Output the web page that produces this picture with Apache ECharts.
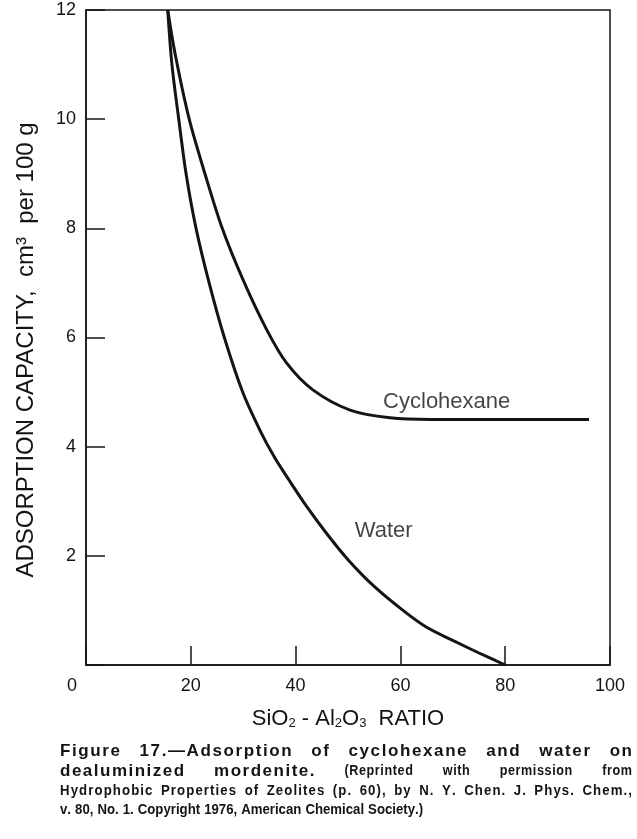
<!DOCTYPE html>
<html><head><meta charset="utf-8">
<script src="https://cdn.jsdelivr.net/npm/echarts@6/dist/echarts.min.js"></script>
<style>html,body{margin:0;padding:0;background:#fff}#c{width:637px;height:839px}</style>
</head><body><div id="c"></div>
<script>
// ---- data ----
const xTickValues = [0, 20, 40, 60, 80, 100];
const yTickValues = [0, 2, 4, 6, 8, 10, 12];
const waterX = [15.6, 16.4, 17.7, 19.1, 21.0, 23.5, 26.4, 29.9, 33.2, 36.0, 38.8, 42.0, 46.0, 50.0, 55.0, 60.5, 65.0, 70.0, 75.0, 80.0];
const waterY = [12.0, 11.0, 10.0, 9.0, 8.0, 7.0, 6.0, 5.0, 4.3, 3.8, 3.38, 2.92, 2.4, 1.93, 1.44, 1.0, 0.69, 0.45, 0.22, 0.0];
const cycloX = [15.6, 17.0, 19.7, 22.7, 26.0, 30.0, 34.5, 38.3, 43.3, 50.4, 58.0, 66.0, 80.0, 96.0];
const cycloY = [12.0, 11.2, 10.0, 9.0, 8.0, 7.05, 6.14, 5.53, 5.04, 4.67, 4.53, 4.5, 4.5, 4.5];
const seriesNames = ['Cyclohexane', 'Water'];
const labelAnchors = [[56.7, 4.82], [51.3, 2.45]];
const xAxisTitle = 'SiO{s|2} - Al{s|2}O{s|3}  RATIO';
const yAxisTitle = 'ADSORPTION CAPACITY,  cm³  per 100 g';
const captionLines = [
  [['Figure', 'B'], ['17.—Adsorption', 'B'], ['of', 'B'], ['cyclohexane', 'B'], ['and', 'B'], ['water', 'B'], ['on', 'B']],
  [['dealuminized', 'B'], ['mordenite.', 'B'], ['(Reprinted', 'M'], ['with', 'M'], ['permission', 'M'], ['from', 'M']],
  [['Hydrophobic', 'S'], ['Properties', 'S'], ['of', 'S'], ['Zeolites', 'S'], ['(p.', 'S'], ['60),', 'S'], ['by', 'S'], ['N.', 'S'], ['Y.', 'S'], ['Chen.', 'S'], ['J.', 'S'], ['Phys.', 'S'], ['Chem.,', 'S']],
  [['v.', 'S'], ['80,', 'S'], ['No.', 'S'], ['1.', 'S'], ['Copyright', 'S'], ['1976,', 'S'], ['American', 'S'], ['Chemical', 'S'], ['Society.)', 'S']]
];

// ---- chart ----
const FONT = '"Liberation Sans", Arial, Helvetica, sans-serif';
const INK = '#141414';
const chart = echarts.init(document.getElementById('c'), null, {renderer: 'canvas'});

function zip(xs, ys) { return xs.map((x, i) => [x, ys[i]]); }

const CAP = {
  B: {size: 17, weight: 'bold', sx: 1.0},
  M: {size: 14, weight: 'bold', sx: 0.9},
  S: {size: 15, weight: 'bold', sx: 0.88}
};
// letter spacing per caption line, per style
const capLetterSpacing = [{B: 1.6}, {B: 1.5, M: 0.6}, {S: 1.1}, {S: 0}];
const capLeft = 60, capRight = 632;
const capY = [751, 771, 791, 810];
const ctx = document.createElement('canvas').getContext('2d');
function charW(c, t) {
  ctx.font = CAP[t].weight + ' ' + CAP[t].size + 'px ' + FONT;
  return ctx.measureText(c).width * CAP[t].sx;
}
const graphics = [];
captionLines.forEach((line, li) => {
  const ls = capLetterSpacing[li];
  const wordInfo = line.map(([w, t]) => {
    const chars = Array.from(w).map(c => charW(c, t));
    const sp = ls[t] || 0;
    const width = chars.reduce((a, b) => a + b, 0) + sp * (chars.length - 1);
    return {w, t, chars, sp, width};
  });
  const total = wordInfo.reduce((a, b) => a + b.width, 0);
  const justify = li < captionLines.length - 1;
  const gap = justify ? (capRight - capLeft - total) / (line.length - 1) : charW(' ', 'S') * 1.1;
  let x = capLeft;
  wordInfo.forEach(info => {
    let cx = x;
    Array.from(info.w).forEach((c, ci) => {
      graphics.push({
        type: 'text', x: cx, y: capY[li], scaleX: CAP[info.t].sx, silent: true,
        style: {text: c, fill: INK, fontSize: CAP[info.t].size, fontWeight: CAP[info.t].weight, fontFamily: FONT,
                align: 'left', verticalAlign: 'middle', textAlign: 'left', textVerticalAlign: 'middle'}
      });
      cx += info.chars[ci] + info.sp;
    });
    x += info.width + gap;
  });
});
graphics.push({
  type: 'text', x: 26, y: 350, rotation: Math.PI / 2, silent: true,
  style: {text: yAxisTitle, fill: INK, fontSize: 24, fontFamily: FONT,
          align: 'center', verticalAlign: 'middle', textAlign: 'center', textVerticalAlign: 'middle'}
});

const lineStyle = {color: INK, width: 1.5};
chart.setOption({
  animation: false,
  backgroundColor: '#fff',
  grid: {left: 86, right: 27, top: 10, bottom: 174, show: true, borderColor: INK, borderWidth: 1.5, backgroundColor: 'transparent'},
  xAxis: {
    type: 'value', min: xTickValues[0], max: xTickValues[xTickValues.length - 1], interval: 20,
    axisLine: {show: true, lineStyle: lineStyle},
    axisTick: {show: true, inside: true, length: 19, lineStyle: lineStyle},
    splitLine: {show: false},
    axisLabel: {
      fontSize: 18, color: INK, fontFamily: FONT, margin: 12,
      formatter: v => v === 0 ? '{z|0}' : String(v),
      rich: {z: {fontSize: 18, color: INK, fontFamily: FONT, padding: [0, 28, 0, 0]}}
    },
    name: xAxisTitle, nameLocation: 'middle', nameGap: 43,
    nameTextStyle: {fontSize: 22, color: INK, fontFamily: FONT,
      rich: {s: {fontSize: 13, color: INK, fontFamily: FONT, verticalAlign: 'bottom', padding: [8, 0, 0, 0]}}}
  },
  yAxis: {
    type: 'value', min: yTickValues[0], max: yTickValues[yTickValues.length - 1], interval: 2,
    axisLine: {show: true, lineStyle: lineStyle},
    axisTick: {show: true, inside: true, length: 19, lineStyle: lineStyle},
    splitLine: {show: false},
    axisLabel: {fontSize: 18, color: INK, fontFamily: FONT, margin: 10,
      formatter: v => v === 0 ? '' : String(v)}
  },
  graphic: graphics,
  series: [
    {name: seriesNames[0], type: 'line', data: zip(cycloX, cycloY), showSymbol: false, smooth: 0.3,
     lineStyle: {color: INK, width: 3}, silent: true, z: 3},
    {name: seriesNames[1], type: 'line', data: zip(waterX, waterY), showSymbol: false, smooth: 0.3,
     lineStyle: {color: INK, width: 3}, silent: true, z: 3},
    {type: 'scatter', data: labelAnchors.map((p, i) => ({value: p, label: {formatter: seriesNames[i]}})), symbolSize: 0, silent: true,
     label: {show: true, position: 'right', distance: 0, fontSize: 22, color: INK, fontFamily: FONT}}
  ]
});
</script></body></html>
